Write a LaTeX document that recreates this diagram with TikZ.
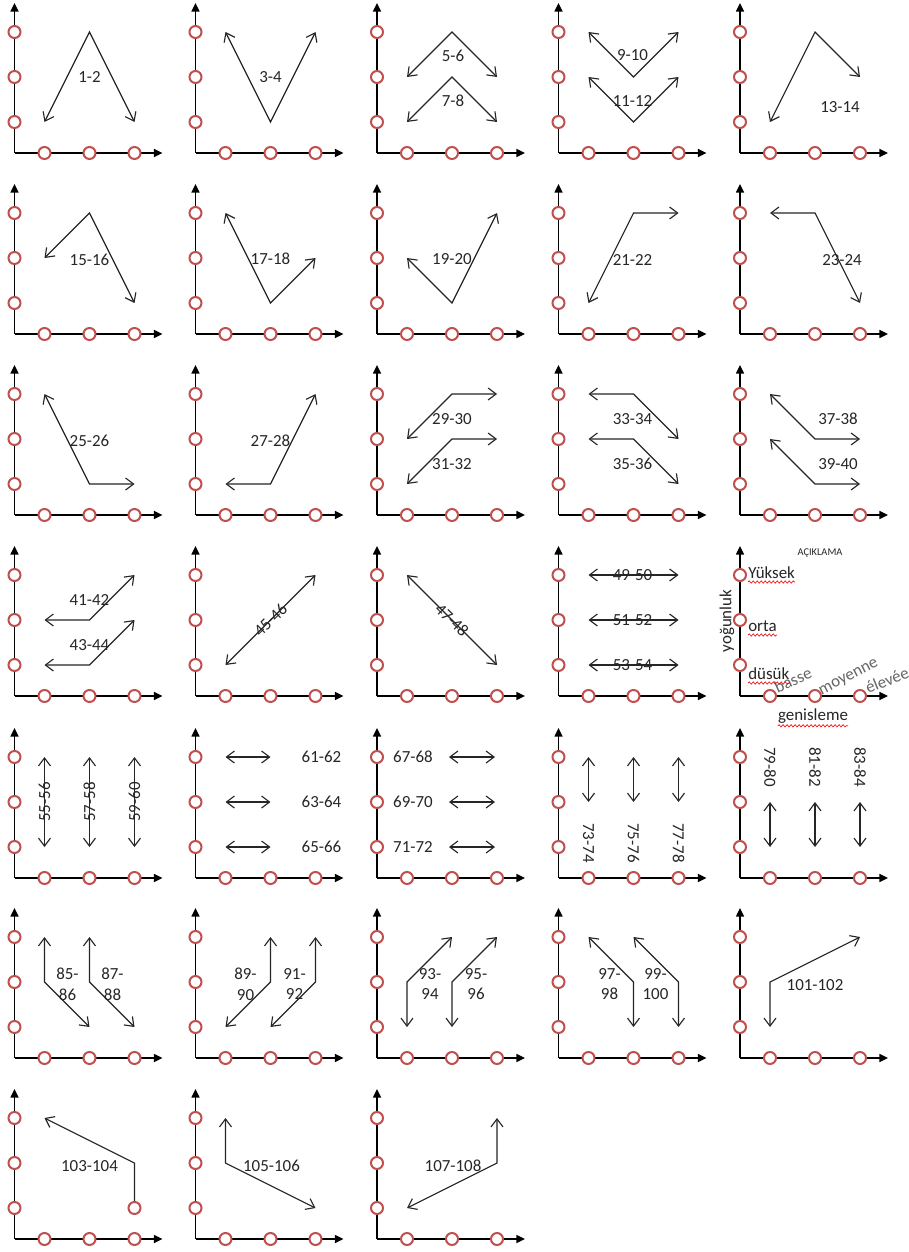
\documentclass[tikz,border=0pt]{standalone}
\usepackage{fontspec}
\setmainfont{Carlito}
\usetikzlibrary{arrows.meta,decorations.pathmorphing}
\definecolor{cred}{HTML}{C0504D}
\definecolor{txt}{HTML}{262626}
\tikzset{
  axis/.style={line width=1.1pt, -{Triangle[length=6.5pt,width=6pt]}},
  dot/.style={circle, draw=cred, fill=white, line width=1.5pt, minimum size=9pt, inner sep=0pt},
  arr/.style={line width=0.85pt, draw=txt, {Straight Barb[length=6pt,width=9pt]}-{Straight Barb[length=6pt,width=9pt]}},
  arrend/.style={line width=0.85pt, draw=txt, -{Straight Barb[length=6pt,width=9pt]}},
  lbl/.style={font=\fontsize{12.7}{15.5}\selectfont, text=txt, inner sep=0pt, align=center},
  small/.style={font=\fontsize{7.8}{9}\selectfont, text=txt, inner sep=0pt},
  grey/.style={text=black!60},
  wavy/.style={draw=red, line width=0.5pt, decorate, decoration={snake, segment length=3pt, amplitude=0.8pt}}
}
\newcommand{\axes}[1]{%
  \coordinate (o#1) at (0,0);
  \coordinate (yt#1) at (0,150);
  \coordinate (xt#1) at (148,0);
  \draw[axis] (o#1) -- (yt#1);
  \draw[axis] (o#1) -- (xt#1);
  \foreach \i/\v in {1/31,2/76,3/121}{%
    \node[dot] (ya#1-\i) at (0,\v) {};
    \node[dot] (xa#1-\i) at (\v-1,0) {};
  }
  \foreach \i/\xx in {1/30,2/75,3/120}{%
    \foreach \j/\yy in {1/31,2/76,3/121}{%
      \coordinate (g#1-\i\j) at (\xx,\yy);
    }
  }%
}
\begin{document}
\begin{tikzpicture}[x=0.75pt,y=0.75pt]
\path[use as bounding box, fill=white] (0,-1252) rectangle (908,0);

% ---------- row 1 ----------
\begin{scope}[shift={(14.5,-153)}]
  \axes{1}
  \draw[arr] (g1-11) -- (g1-23) -- (g1-31);
  \node[lbl] (l1) at (75,76) {1-2};
\end{scope}
\begin{scope}[shift={(195.5,-153)}]
  \axes{2}
  \draw[arr] (g2-13) -- (g2-21) -- (g2-33);
  \node[lbl] (l2) at (75,76) {3-4};
\end{scope}
\begin{scope}[shift={(377,-153)}]
  \axes{3}
  \draw[arr] (g3-12) -- (g3-23) -- (g3-32);
  \draw[arr] (g3-11) -- (g3-22) -- (g3-31);
  \node[lbl] (l3a) at (76,97) {5-6};
  \node[lbl] (l3b) at (76,52) {7-8};
\end{scope}
\begin{scope}[shift={(558.5,-153)}]
  \axes{4}
  \draw[arr] (g4-13) -- (g4-22) -- (g4-33);
  \draw[arr] (g4-12) -- (g4-21) -- (g4-32);
  \node[lbl] (l4a) at (74,98) {9-10};
  \node[lbl] (l4b) at (74,52) {11-12};
\end{scope}
\begin{scope}[shift={(740,-153)}]
  \axes{5}
  \draw[arr] (g5-11) -- (g5-23) -- (g5-32);
  \node[lbl] (l5) at (100,46) {13-14};
\end{scope}

% ---------- row 2 ----------
\begin{scope}[shift={(14.5,-334)}]
  \axes{6}
  \draw[arr] (g6-12) -- (g6-23) -- (g6-31);
  \node[lbl] (l6) at (75,74) {15-16};
\end{scope}
\begin{scope}[shift={(195.5,-334)}]
  \axes{7}
  \draw[arr] (g7-13) -- (g7-21) -- (g7-32);
  \node[lbl] (l7) at (75,75) {17-18};
\end{scope}
\begin{scope}[shift={(377,-334)}]
  \axes{8}
  \draw[arr] (g8-12) -- (g8-21) -- (g8-33);
  \node[lbl] (l8) at (75,75) {19-20};
\end{scope}
\begin{scope}[shift={(558.5,-334)}]
  \axes{9}
  \draw[arr] (g9-33) -- (g9-23) -- (g9-11);
  \node[lbl] (l9) at (74,74) {21-22};
\end{scope}
\begin{scope}[shift={(740,-334)}]
  \axes{10}
  \draw[arr] (g10-13) -- (g10-23) -- (g10-31);
  \node[lbl] (l10) at (102,74) {23-24};
\end{scope}

% ---------- row 3 ----------
\begin{scope}[shift={(14.5,-515)}]
  \axes{11}
  \draw[arr] (g11-13) -- (g11-21) -- (g11-31);
  \node[lbl] (l11) at (75,74) {25-26};
\end{scope}
\begin{scope}[shift={(195.5,-515)}]
  \axes{12}
  \draw[arr] (g12-11) -- (g12-21) -- (g12-33);
  \node[lbl] (l12) at (75,74) {27-28};
\end{scope}
\begin{scope}[shift={(377,-515)}]
  \axes{13}
  \draw[arr] (g13-33) -- (g13-23) -- (g13-12);
  \draw[arr] (g13-32) -- (g13-22) -- (g13-11);
  \node[lbl] (l13a) at (75,96) {29-30};
  \node[lbl] (l13b) at (75,51) {31-32};
\end{scope}
\begin{scope}[shift={(558.5,-515)}]
  \axes{14}
  \draw[arr] (g14-13) -- (g14-23) -- (g14-32);
  \draw[arr] (g14-12) -- (g14-22) -- (g14-31);
  \node[lbl] (l14a) at (74,96) {33-34};
  \node[lbl] (l14b) at (74,51) {35-36};
\end{scope}
\begin{scope}[shift={(740,-515)}]
  \axes{15}
  \draw[arr] (g15-13) -- (g15-22) -- (g15-32);
  \draw[arr] (g15-12) -- (g15-21) -- (g15-31);
  \node[lbl] (l15a) at (98,96) {37-38};
  \node[lbl] (l15b) at (98,51) {39-40};
\end{scope}

% ---------- row 4 ----------
\begin{scope}[shift={(14.5,-696)}]
  \axes{16}
  \draw[arr] (g16-12) -- (g16-22) -- (g16-33);
  \draw[arr] (g16-11) -- (g16-21) -- (g16-32);
  \node[lbl] (l16a) at (75,96) {41-42};
  \node[lbl] (l16b) at (75,51) {43-44};
\end{scope}
\begin{scope}[shift={(195.5,-696)}]
  \axes{17}
  \draw[arr] (g17-11) -- (g17-33);
  \node[lbl, rotate=45] (l17) at (75,76) {45-46};
\end{scope}
\begin{scope}[shift={(377,-696)}]
  \axes{18}
  \draw[arr] (g18-13) -- (g18-31);
  \node[lbl, rotate=-45] (l18) at (75,76) {47-48};
\end{scope}
\begin{scope}[shift={(558.5,-696)}]
  \axes{19}
  \draw[arr] (g19-13) -- (g19-33);
  \draw[arr] (g19-12) -- (g19-32);
  \draw[arr] (g19-11) -- (g19-31);
  \node[lbl] (l19a) at (74,121) {49-50};
  \node[lbl] (l19b) at (74,76) {51-52};
  \node[lbl] (l19c) at (74,31) {53-54};
\end{scope}
\begin{scope}[shift={(740,-696)}]
  \axes{20}
  \node[small] (acik) at (80,143) {AÇIKLAMA};
  \node[lbl, anchor=base west] (yuk) at (8,118) {Yüksek};
  \node[lbl, anchor=base west] (ort) at (8,65) {orta};
  \node[lbl, anchor=base west] (dus) at (8,17) {düsük};
  \node[lbl, rotate=90] (yog) at (-13,75) {yoğunluk};
  \node[lbl, grey, rotate=24] (bas) at (53,16) {basse};
  \node[lbl, grey, rotate=27] (moy) at (109,18) {moyenne};
  \node[lbl, grey, rotate=22] (ele) at (147,16) {élevée};
  \node[lbl] (gen) at (73,-20) {genisleme};
  \draw[wavy] ([yshift=-3pt]yuk.base west) -- ([yshift=-3pt]yuk.base east);
  \draw[wavy] ([yshift=-3pt]ort.base west) -- ([yshift=-3pt]ort.base east);
  \draw[wavy] ([yshift=-3pt]dus.base west) -- ([yshift=-3pt]dus.base east);
  \draw[wavy] ([yshift=-4pt]gen.base west) -- ([yshift=-4pt]gen.base east);
\end{scope}

% ---------- row 5 ----------
\begin{scope}[shift={(14.5,-878)}]
  \axes{21}
  \draw[arr] (g21-13) -- (g21-11);
  \draw[arr] (g21-23) -- (g21-21);
  \draw[arr] (g21-33) -- (g21-31);
  \node[lbl, rotate=90] (l21a) at (30,76) {55-56};
  \node[lbl, rotate=90] (l21b) at (75,76) {57-58};
  \node[lbl, rotate=90] (l21c) at (120,76) {59-60};
\end{scope}
\begin{scope}[shift={(195.5,-878)}]
  \axes{22}
  \draw[arr] (g22-13) -- (g22-23);
  \draw[arr] (g22-12) -- (g22-22);
  \draw[arr] (g22-11) -- (g22-21);
  \node[lbl] (l22a) at (126,121) {61-62};
  \node[lbl] (l22b) at (126,76) {63-64};
  \node[lbl] (l22c) at (126,31) {65-66};
\end{scope}
\begin{scope}[shift={(377,-878)}]
  \axes{23}
  \foreach \j/\yy in {1/31,2/76,3/121}{%
    \coordinate (a23-\j) at (72,\yy);
    \coordinate (b23-\j) at (118,\yy);
  }
  \draw[arr] (a23-3) -- (b23-3);
  \draw[arr] (a23-2) -- (b23-2);
  \draw[arr] (a23-1) -- (b23-1);
  \node[lbl] (l23a) at (36,121) {67-68};
  \node[lbl] (l23b) at (36,76) {69-70};
  \node[lbl] (l23c) at (36,31) {71-72};
\end{scope}
\begin{scope}[shift={(558.5,-878)}]
  \axes{24}
  \draw[arr] (g24-13) -- (g24-12);
  \draw[arr] (g24-23) -- (g24-22);
  \draw[arr] (g24-33) -- (g24-32);
  \node[lbl, rotate=-90] (l24a) at (30,35) {73-74};
  \node[lbl, rotate=-90] (l24b) at (75,35) {75-76};
  \node[lbl, rotate=-90] (l24c) at (120,35) {77-78};
\end{scope}
\begin{scope}[shift={(740,-878)}]
  \axes{25}
  \draw[arr] (g25-12) -- (g25-11);
  \draw[arr] (g25-22) -- (g25-21);
  \draw[arr] (g25-32) -- (g25-31);
  \node[lbl, rotate=-90] (l25a) at (30,111) {79-80};
  \node[lbl, rotate=-90] (l25b) at (75,111) {81-82};
  \node[lbl, rotate=-90] (l25c) at (120,111) {83-84};
\end{scope}

% ---------- row 6 ----------
\begin{scope}[shift={(14.5,-1058)}]
  \axes{26}
  \draw[arr] (g26-13) -- (g26-12) -- (g26-21);
  \draw[arr] (g26-23) -- (g26-22) -- (g26-31);
  \node[lbl] (l26a) at (53,74) {85-\\86};
  \node[lbl] (l26b) at (98,74) {87-\\88};
\end{scope}
\begin{scope}[shift={(195.5,-1058)}]
  \axes{27}
  \draw[arr] (g27-23) -- (g27-22) -- (g27-11);
  \draw[arr] (g27-33) -- (g27-32) -- (g27-21);
  \node[lbl] (l27a) at (50,74) {89-\\90};
  \node[lbl] (l27b) at (99,74) {91-\\92};
\end{scope}
\begin{scope}[shift={(377,-1058)}]
  \axes{28}
  \draw[arr] (g28-11) -- (g28-12) -- (g28-23);
  \draw[arr] (g28-21) -- (g28-22) -- (g28-33);
  \node[lbl] (l28a) at (53,74) {93-\\94};
  \node[lbl] (l28b) at (99,74) {95-\\96};
\end{scope}
\begin{scope}[shift={(558.5,-1058)}]
  \axes{29}
  \draw[arr] (g29-13) -- (g29-22) -- (g29-21);
  \draw[arr] (g29-23) -- (g29-32) -- (g29-31);
  \node[lbl] (l29a) at (51,74) {97-\\98};
  \node[lbl] (l29b) at (97,74) {99-\\100};
\end{scope}
\begin{scope}[shift={(740,-1058)}]
  \axes{30}
  \draw[arr] (g30-11) -- (g30-12) -- (g30-33);
  \node[lbl] (l30) at (75,73) {101-102};
\end{scope}

% ---------- row 7 ----------
\begin{scope}[shift={(14.5,-1239)}]
  \axes{31}
  \node[dot] (s31) at (g31-31) {};
  \draw[arrend] (s31.north) -- (g31-32) -- (g31-13);
  \node[lbl] (l31) at (75,73) {103-104};
\end{scope}
\begin{scope}[shift={(195.5,-1239)}]
  \axes{32}
  \draw[arr] (g32-13) -- (g32-12) -- (g32-31);
  \node[lbl] (l32) at (76,73) {105-106};
\end{scope}
\begin{scope}[shift={(377,-1239)}]
  \axes{33}
  \draw[arr] (g33-33) -- (g33-32) -- (g33-11);
  \node[lbl] (l33) at (76,73) {107-108};
\end{scope}
\end{tikzpicture}
\end{document}
